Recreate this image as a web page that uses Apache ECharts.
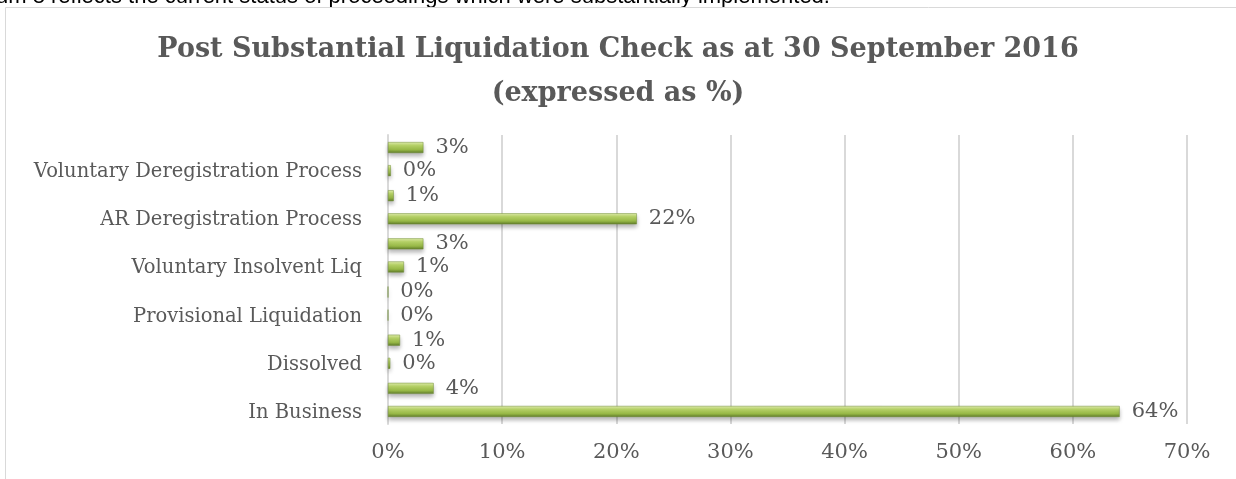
<!DOCTYPE html>
<html>
<head>
<meta charset="utf-8">
<script src="https://cdn.jsdelivr.net/npm/echarts@6/dist/echarts.min.js"></script>
<style>
html,body{margin:0;padding:0;background:#fff;}
#chart{width:1236px;height:479px;}
</style>
</head>
<body>
<div id="chart"></div>
<script>
// Data (bottom to top on the category axis)
const categories = ['In Business', 'Dissolved', 'Provisional Liquidation', 'Voluntary Insolvent Liq', 'AR Deregistration Process', 'Voluntary Deregistration Process'];
const upperSeries = [4.0, 1.05, 0, 3.1, 0.5, 3.1];
const lowerSeries = [64.1, 0.2, 0, 1.4, 21.8, 0.25];
const xTicks = [0, 10, 20, 30, 40, 50, 60, 70];
const titleText = 'Post Substantial Liquidation Check as at 30 September 2016\n(expressed as %)';
const headerText = 'um 8 reflects the current status of proceedings which were substantially implemented.';

const chart = echarts.init(document.getElementById('chart'));
const barColor = new echarts.graphic.LinearGradient(0, 0, 0, 1, [
  {offset: 0, color: '#e2efae'},
  {offset: 0.3, color: '#bad66a'},
  {offset: 0.7, color: '#98b947'},
  {offset: 1, color: '#5e7a2a'}
]);
const serif = '"DejaVu Serif", serif';
const labelCfg = {
  show: true,
  position: 'right',
  distance: 12,
  color: '#595959',
  fontFamily: serif,
  fontSize: 21,
  formatter: p => Math.round(p.value) + '%'
};
const itemCfg = {
  color: barColor,
  borderColor: '#6f8c33',
  borderWidth: 0.5,
  shadowColor: 'rgba(0,0,0,0.3)',
  shadowBlur: 4,
  shadowOffsetY: 3
};
chart.setOption({
  animation: false,
  title: {
    text: titleText,
    left: 'center',
    top: 23,
    textStyle: {fontFamily: serif, fontWeight: 'bold', fontSize: 27, color: '#595959', lineHeight: 44}
  },
  graphic: [
    {type: 'text', style: {x: -4, y: 8, verticalAlign: 'bottom', text: headerText, font: '22px "Liberation Sans", Arial, sans-serif', fill: '#000'}},
    {type: 'polyline', shape: {points: [[5.5, 479], [5.5, 7.5], [1236, 7.5]]}, style: {stroke: '#d9d9d9', lineWidth: 1, fill: null}}
  ],
  grid: {left: 388, right: 49, top: 135, bottom: 55},
  xAxis: {
    type: 'value',
    min: xTicks[0],
    max: xTicks[xTicks.length - 1],
    interval: 10,
    axisLine: {show: false},
    axisTick: {show: false},
    splitLine: {lineStyle: {color: '#d9d9d9', width: 2}},
    axisLabel: {formatter: '{value}%', color: '#595959', fontFamily: serif, fontSize: 21, margin: 18}
  },
  yAxis: {
    type: 'category',
    data: categories,
    axisLine: {lineStyle: {color: '#d9d9d9', width: 2}},
    axisTick: {show: false},
    axisLabel: {color: '#595959', fontFamily: serif, fontSize: 19.5, margin: 26, verticalAlign: 'top', lineHeight: 26}
  },
  series: [
    {name: 'Upper', type: 'bar', data: upperSeries, barWidth: 11, barGap: '110%', label: labelCfg, itemStyle: itemCfg},
    {name: 'Lower', type: 'bar', data: lowerSeries, barWidth: 11, barGap: '110%', label: labelCfg, itemStyle: itemCfg}
  ]
});
</script>
</body>
</html>
